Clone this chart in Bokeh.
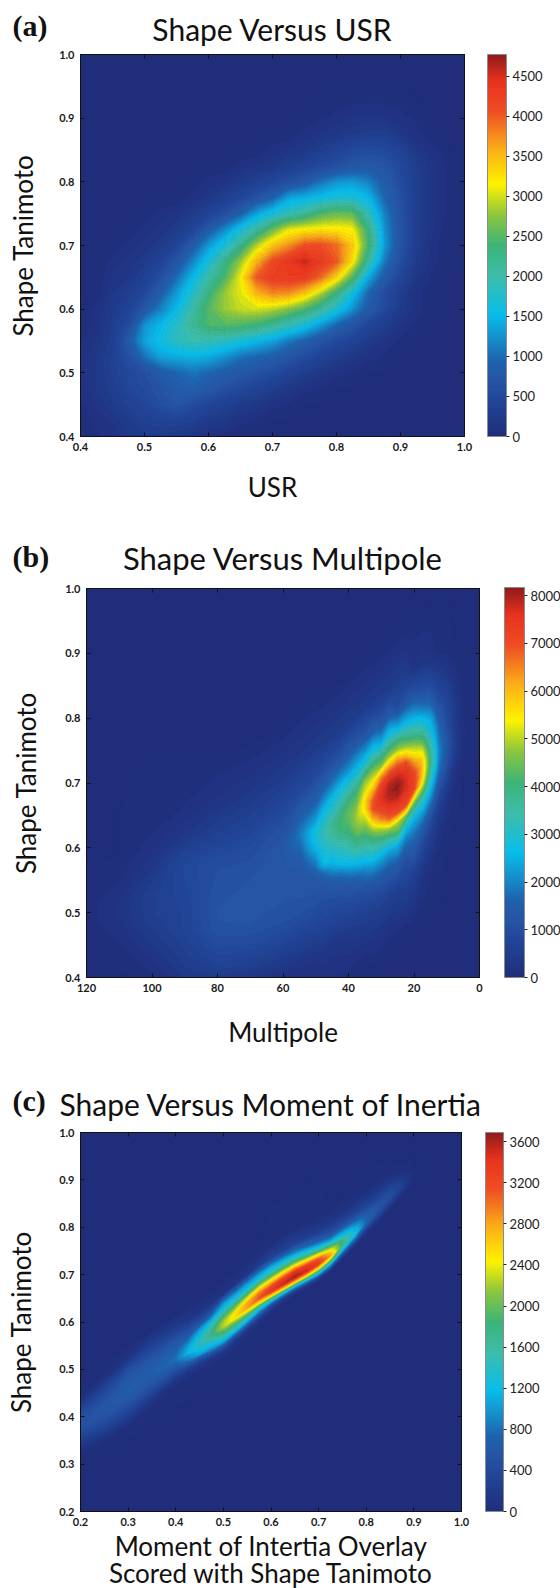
import numpy as np
from bokeh.embed import file_html
from bokeh.resources import INLINE
from bokeh.models import (ColorBar, CustomJSTickFormatter, FixedTicker, LinearAxis, LinearColorMapper,
                          NumeralTickFormatter, Range1d, Title)
from bokeh.plotting import figure

# ---- read-off colour scale (fraction of the bar, colour) ----
CMAP_STOPS = [(0.00, "#1f2d7a"), (0.10, "#22479a"), (0.15, "#2656a5"), (0.20, "#1e63ae"), (0.28, "#12a0d8"),
              (0.32, "#08bdeb"), (0.42, "#3dbdaa"), (0.50, "#3cb478"), (0.58, "#8cc63f"),
              (0.66, "#fff200"), (0.75, "#fbb018"), (0.85, "#ef4e23"), (0.93, "#e8321e"),
              (1.00, "#8e1b1b")]

# ---- panel (a) Shape Versus USR: (y, first column, values) ----
A_X = [0.40, 0.425, 0.45, 0.475, 0.50, 0.525, 0.55, 0.575, 0.60, 0.625, 0.65, 0.675, 0.70,
       0.725, 0.75, 0.775, 0.80, 0.825, 0.85, 0.875, 0.90, 0.925, 0.95, 0.975, 1.0]
A_Y = A_X
A_MAX = 4770
A_ROWS = [
    (0.925, 16, [30, 50, 60, 60, 40]),
    (0.900, 15, [50, 100, 150, 150, 150, 100, 50]),
    (0.875, 14, [100, 150, 200, 250, 300, 300, 200, 100]),
    (0.850, 12, [100, 150, 200, 300, 400, 500, 550, 500, 400, 200, 100]),
    (0.825, 10, [100, 150, 200, 300, 400, 500, 600, 700, 750, 700, 500, 300, 150, 50]),
    (0.800, 8, [100, 150, 250, 350, 450, 600, 750, 1050, 1250, 1300, 1150, 850, 550, 300, 150, 50]),
    (0.775, 7, [100, 200, 300, 450, 650, 900, 1350, 1450, 1550, 1650, 1700, 1500, 950, 600, 300, 150, 50]),
    (0.750, 5, [100, 150, 250, 400, 600, 900, 1350, 1650, 1900, 2100, 2450, 2600, 2550, 1900, 1150, 650, 300, 150, 50]),
    (0.725, 4, [100, 150, 250, 450, 800, 1200, 1650, 2050, 2600, 3050, 3150, 3200, 3200, 3150, 2300, 1250, 650, 300, 150]),
    (0.700, 3, [100, 150, 250, 450, 800, 1300, 1700, 2200, 2900, 3400, 3700, 4050, 4100, 3900, 3400, 2400, 1300, 650, 300, 100]),
    (0.675, 2, [100, 150, 250, 400, 700, 1150, 1650, 2200, 2800, 3500, 4100, 4350, 4550, 4300, 4000, 3200, 2050, 1100, 600, 250, 100]),
    (0.650, 2, [150, 200, 350, 600, 1000, 1500, 2000, 2450, 3100, 4000, 4250, 4300, 4250, 3900, 3300, 2500, 1400, 800, 450, 200, 50]),
    (0.625, 2, [200, 300, 500, 850, 1300, 1750, 2300, 2800, 3050, 3500, 3750, 3700, 3400, 2900, 2300, 1600, 950, 550, 300, 100]),
    (0.600, 1, [100, 250, 400, 750, 1150, 1500, 2000, 2500, 2800, 2950, 3000, 2900, 2700, 2450, 2100, 1700, 1250, 800, 500, 250, 100]),
    (0.575, 1, [100, 300, 550, 1250, 1500, 1800, 2150, 2450, 2500, 2450, 2350, 2150, 1900, 1650, 1300, 950, 700, 450, 300, 150, 50]),
    (0.550, 0, [50, 150, 300, 800, 1350, 1600, 1850, 1950, 1900, 1800, 1650, 1500, 1350, 1100, 900, 700, 500, 400, 250, 150, 50]),
    (0.525, 0, [100, 200, 350, 600, 1050, 1350, 1400, 1450, 1400, 1250, 1050, 950, 850, 700, 550, 400, 300, 200, 100, 50]),
    (0.500, 0, [100, 200, 350, 500, 600, 800, 950, 1050, 950, 850, 750, 650, 550, 400, 300, 200, 100, 50]),
    (0.475, 0, [100, 200, 300, 450, 550, 650, 800, 900, 750, 600, 500, 400, 300, 200, 100, 50]),
    (0.450, 0, [50, 150, 250, 350, 450, 600, 700, 550, 450, 350, 250, 200, 100, 50]),
    (0.425, 1, [100, 150, 250, 350, 400, 400, 350, 250, 200, 100, 50]),
    (0.400, 1, [50, 100, 200, 250, 250, 200, 150, 100, 50]),
]
A_X_TICKS = [0.4, 0.5, 0.6, 0.7, 0.8, 0.9, 1.0]
A_Y_TICKS = [0.4, 0.5, 0.6, 0.7, 0.8, 0.9, 1.0]
A_BAR_TICKS = [0, 500, 1000, 1500, 2000, 2500, 3000, 3500, 4000, 4500]

# ---- panel (b) Shape Versus Multipole: values read across the ridge, at stations along it ----
B_MAX = 8170
B_STATION_X = [120, 110, 100, 90, 80, 70, 60, 55, 50, 47.5, 45, 42.5, 40, 37.5, 35, 32.5, 30, 27.5, 25, 22.5,
               20, 17.5, 15, 12.5, 10, 7.5, 5, 0]
B_RIDGE_Y = [0.5, 0.5, 0.5, 0.5, 0.5, 0.52, 0.55, 0.58, 0.59, 0.60, 0.61, 0.615, 0.63, 0.645, 0.66, 0.66, 0.67,
             0.685, 0.695, 0.705, 0.715, 0.725, 0.73, 0.74, 0.75, 0.76, 0.77, 0.78]
B_OFFSET_Y = [-0.16, -0.12, -0.09, -0.07, -0.055, -0.04, -0.025, -0.0125, 0, 0.0125, 0.025, 0.04, 0.055, 0.07, 0.09, 0.12, 0.16]
B_VALUES = [
    [0, 0, 0, 0, 0, 0, 30, 50, 60, 50, 30, 0, 0, 0, 0, 0, 0],
    [0, 0, 0, 30, 80, 130, 190, 220, 250, 230, 200, 140, 80, 40, 0, 0, 0],
    [0, 0, 130, 220, 320, 400, 450, 500, 550, 550, 550, 490, 420, 330, 240, 120, 20],
    [0, 200, 420, 520, 580, 640, 700, 700, 700, 720, 750, 780, 810, 840, 650, 350, 130],
    [100, 200, 550, 750, 900, 1000, 1100, 1130, 1150, 1130, 1100, 1070, 1040, 1010, 880, 600, 310],
    [0, 350, 660, 900, 1020, 1130, 1180, 1190, 1160, 1150, 1150, 1110, 1050, 990, 870, 630, 370],
    [80, 450, 800, 1000, 1070, 1120, 1150, 1150, 1150, 1150, 1150, 1200, 1220, 1130, 1010, 750, 420],
    [250, 650, 970, 1090, 1150, 1150, 1180, 1250, 1350, 1500, 1700, 1850, 1700, 1400, 1080, 700, 360],
    [240, 650, 950, 1070, 1160, 1250, 1600, 1950, 2300, 2650, 2800, 2700, 2200, 1800, 1400, 880, 450],
    [330, 700, 950, 1070, 1200, 1650, 2600, 2850, 3000, 3150, 3300, 3000, 2700, 2200, 1600, 1000, 450],
    [300, 720, 1020, 1250, 1650, 2300, 2750, 3000, 3300, 3600, 3650, 3300, 2900, 2500, 1800, 1100, 450],
    [300, 730, 1000, 1300, 1800, 2600, 3000, 3300, 3700, 4000, 4100, 3800, 3300, 2950, 2200, 1250, 500],
    [400, 850, 1250, 1900, 2600, 3050, 3450, 3800, 4150, 4300, 4350, 4100, 3500, 2900, 2100, 1300, 500],
    [500, 950, 1600, 2550, 3200, 3800, 4300, 4650, 4850, 4800, 4500, 4050, 3500, 2800, 2200, 1200, 420],
    [600, 1150, 2200, 3000, 3550, 4100, 4700, 5100, 5500, 5550, 5200, 4800, 3900, 2900, 2100, 1100, 400],
    [530, 1100, 2150, 3000, 3600, 4400, 5300, 6200, 6950, 6800, 6200, 5400, 4800, 3900, 2800, 1500, 500],
    [570, 1200, 2200, 3100, 4000, 5000, 6500, 7100, 7500, 7500, 7200, 6300, 4700, 3900, 2500, 1300, 500],
    [560, 1350, 2300, 3600, 4900, 6700, 7400, 7800, 8000, 7900, 7400, 6200, 4900, 3900, 2800, 1400, 450],
    [560, 1450, 2500, 4300, 5000, 7000, 7600, 8000, 8150, 7900, 7300, 6300, 4900, 4000, 2500, 1000, 500],
    [650, 1100, 2000, 3000, 4600, 7000, 7500, 7700, 7700, 7500, 7100, 5600, 4500, 3600, 2500, 1200, 500],
    [550, 1300, 1900, 2500, 3500, 5100, 7050, 7200, 7100, 6500, 5700, 4900, 4000, 3200, 2300, 1200, 250],
    [300, 900, 1600, 2300, 3000, 4200, 5300, 5800, 5900, 5700, 5200, 4300, 3500, 2800, 1900, 1000, 300],
    [150, 500, 900, 1500, 2000, 2500, 3000, 3500, 3850, 3800, 3500, 3100, 2700, 2400, 1700, 950, 250],
    [50, 200, 450, 700, 1000, 1350, 1700, 1900, 2000, 2000, 1900, 1750, 1550, 1300, 950, 550, 100],
    [0, 80, 200, 350, 500, 750, 1000, 1150, 1250, 1250, 1150, 1000, 900, 800, 650, 350, 50],
    [0, 0, 50, 100, 150, 250, 350, 450, 500, 500, 450, 430, 400, 350, 280, 120, 0],
    [0, 0, 0, 0, 0, 50, 80, 100, 130, 130, 120, 100, 90, 80, 60, 20, 0],
    [0, 0, 0, 0, 0, 0, 0, 0, 0, 0, 0, 0, 0, 0, 0, 0, 0],
]
B_X_TICKS = [120, 100, 80, 60, 40, 20, 0]
B_Y_TICKS = A_Y_TICKS
B_BAR_TICKS = [0, 1000, 2000, 3000, 4000, 5000, 6000, 7000, 8000]

# ---- panel (c) Shape Versus Moment of Inertia: values read across the ridge, at stations along it ----
C_MAX = 3690
C_STATION_X = [0.2, 0.25, 0.3, 0.35, 0.4, 0.425, 0.45, 0.475, 0.5, 0.525, 0.55, 0.575, 0.6, 0.625, 0.65,
               0.675, 0.7, 0.725, 0.75, 0.775, 0.8, 0.825, 0.85, 0.875, 0.9, 0.925]
C_RIDGE_Y = [0.385, 0.415, 0.452, 0.487, 0.52, 0.535, 0.553, 0.572, 0.59, 0.61, 0.63, 0.65, 0.665, 0.68,
             0.695, 0.708, 0.723, 0.74, 0.762, 0.785, 0.81, 0.835, 0.862, 0.885, 0.905, 0.925]
C_OFFSET_Y = [-0.10, -0.07, -0.05, -0.04, -0.03, -0.02, -0.01, 0.0, 0.01, 0.02, 0.03, 0.04, 0.05, 0.07, 0.10]
C_VALUES = [
    [0, 0, 80, 180, 300, 400, 480, 500, 480, 420, 340, 200, 80, 0, 0],
    [0, 30, 180, 300, 400, 470, 520, 550, 530, 490, 430, 350, 260, 60, 0],
    [0, 50, 250, 350, 450, 530, 600, 620, 620, 600, 550, 500, 430, 150, 0],
    [0, 30, 150, 300, 420, 520, 600, 650, 650, 620, 570, 500, 430, 220, 0],
    [0, 10, 60, 180, 350, 500, 680, 800, 760, 700, 620, 530, 430, 180, 0],
    [0, 10, 60, 150, 350, 700, 950, 1150, 1050, 900, 720, 550, 420, 150, 0],
    [0, 10, 60, 200, 500, 1050, 1250, 1400, 1350, 1200, 1000, 650, 400, 100, 0],
    [0, 10, 120, 400, 900, 1200, 1450, 1750, 1650, 1500, 1150, 800, 450, 80, 0],
    [0, 20, 200, 600, 1100, 1500, 1900, 2250, 2200, 1900, 1500, 1200, 950, 100, 0],
    [0, 20, 150, 500, 1100, 1600, 2050, 2500, 2450, 2100, 1650, 1250, 950, 110, 0],
    [0, 10, 100, 400, 1000, 1500, 2200, 2800, 2750, 2350, 1750, 1250, 1000, 130, 0],
    [0, 0, 60, 300, 800, 1400, 2400, 3100, 2950, 2500, 1900, 1300, 1000, 200, 0],
    [0, 0, 0, 100, 400, 1200, 2400, 3350, 3150, 2600, 2000, 1450, 1100, 300, 30],
    [0, 0, 0, 30, 250, 1100, 2500, 3500, 3300, 2700, 2050, 1500, 1050, 300, 50],
    [0, 0, 0, 0, 200, 1100, 2600, 3600, 3400, 2700, 2000, 1400, 950, 300, 50],
    [0, 0, 0, 0, 200, 1100, 2500, 3500, 3300, 2600, 1800, 1250, 800, 250, 30],
    [0, 0, 0, 0, 200, 1200, 2400, 3300, 3100, 2300, 1500, 950, 600, 200, 20],
    [0, 0, 0, 0, 100, 900, 2000, 2800, 2500, 1800, 1100, 700, 450, 150, 0],
    [0, 0, 0, 0, 0, 400, 1150, 1750, 1650, 1250, 900, 550, 350, 100, 0],
    [0, 0, 0, 0, 0, 200, 800, 1300, 1200, 950, 650, 400, 250, 70, 0],
    [0, 0, 0, 0, 0, 100, 450, 750, 700, 600, 420, 280, 170, 30, 0],
    [0, 0, 0, 0, 0, 80, 350, 520, 500, 420, 300, 180, 100, 10, 0],
    [0, 0, 0, 0, 0, 60, 300, 450, 430, 350, 220, 100, 40, 0, 0],
    [0, 0, 0, 0, 0, 30, 150, 250, 230, 160, 70, 20, 0, 0, 0],
    [0, 0, 0, 0, 0, 0, 0, 20, 10, 0, 0, 0, 0, 0, 0],
    [0, 0, 0, 0, 0, 0, 0, 0, 0, 0, 0, 0, 0, 0, 0],
]
C_X_TICKS = [0.2, 0.3, 0.4, 0.5, 0.6, 0.7, 0.8, 0.9, 1.0]
C_Y_TICKS = C_X_TICKS
C_BAR_TICKS = [0, 400, 800, 1200, 1600, 2000, 2400, 2800, 3200, 3600]

NAVY = "#1f2d7a"
FONT = "Lato"
SERIF = "Liberation Serif"


def make_palette(n):
    fr = np.array([s[0] for s in CMAP_STOPS])
    rgb = np.array([[int(s[1][i:i + 2], 16) for i in (1, 3, 5)] for s in CMAP_STOPS], dtype=float)
    t = (np.arange(n) + 0.5) / n
    cols = np.stack([np.interp(t, fr, rgb[:, k]) for k in range(3)], axis=1).round().astype(int)
    return ["#%02x%02x%02x" % tuple(c) for c in cols]


def grid(xs, ys, rows):
    z = np.zeros((len(ys), len(xs)))
    for y, start, vals in rows:
        j = int(np.argmin(np.abs(np.array(ys) - y)))
        z[j, start:start + len(vals)] = vals
    return z


def ridge_mesh(stations, ridge, offsets, values):
    # one row per station in the table; contour wants x rising, and the mesh ends on zeros
    order = np.argsort(stations)
    sx = np.array(stations, dtype=float)[order]
    ry = np.array(ridge, dtype=float)[order]
    off = np.array([offsets[0] - 0.08] + list(offsets) + [offsets[-1] + 0.08])
    z = np.array(values, dtype=float)[order].T
    z = np.vstack([np.zeros(len(sx)), z, np.zeros(len(sx))])
    return np.tile(sx, (len(off), 1)), ry[None, :] + off[:, None], z


def panel(X, Y, z, vmax, xr, yr, xticks, yticks, barticks, xfmt,
          page_top, fig_h, frame_l, frame_t, frame_r, frame_b, bar_l, bar_w,
          tag, tag_standoff, title, title_size, title_off, title_standoff, xlabel, xlabel_standoff, ylabel_standoff,
          second_line=None):
    nlev = 72
    levels = np.linspace(0, vmax, nlev + 1)
    pal = make_palette(nlev)
    fig_w = 560
    p = figure(width=fig_w, height=fig_h,
               x_range=Range1d(*xr), y_range=Range1d(*yr), toolbar_location=None,
               output_backend="svg", min_border_left=frame_l, min_border_top=frame_t - page_top,
               min_border_right=fig_w - frame_r, min_border_bottom=page_top + fig_h - frame_b,
               background_fill_color=NAVY, outline_line_color="#111111", outline_line_width=1)
    p.grid.visible = False
    p.contour(X, Y, z, levels=levels, fill_color=pal, line_color=pal + [pal[-1]], line_width=1)

    def style(ax, ticks, labels=True):
        ax.ticker = FixedTicker(ticks=list(ticks))
        ax.major_tick_in = 4
        ax.major_tick_out = 0
        ax.minor_tick_line_color = None
        ax.axis_line_color = "#111111"
        ax.major_tick_line_color = "#111111"
        ax.major_label_text_font = FONT
        ax.major_label_text_font_style = "bold"
        ax.major_label_text_font_size = "11px" if labels else "1px"
        ax.major_label_text_color = "#1a1a1a"
        ax.major_label_standoff = 6 if labels else 0
        ax.axis_label_text_font = FONT
        ax.axis_label_text_font_style = "normal"
        ax.axis_label_text_font_size = "26px"
        ax.axis_label_text_color = "#111111"

    style(p.xaxis[0], xticks)
    style(p.yaxis[0], yticks)
    p.xaxis[0].formatter = NumeralTickFormatter(format=xfmt)
    p.yaxis[0].formatter = NumeralTickFormatter(format="0.0")
    p.xaxis[0].axis_label = xlabel
    p.xaxis[0].axis_label_standoff = xlabel_standoff
    p.yaxis[0].axis_label = "Shape Tanimoto"
    p.yaxis[0].axis_label_standoff = ylabel_standoff
    top_ax = LinearAxis(formatter=CustomJSTickFormatter(code="return ''"))
    right_ax = LinearAxis(formatter=CustomJSTickFormatter(code="return ''"))
    style(top_ax, xticks, False)
    style(right_ax, yticks, False)
    p.add_layout(top_ax, "above")
    p.add_layout(right_ax, "right")

    p.add_layout(Title(text=title, align="center", offset=title_off, standoff=title_standoff,
                       text_font=FONT, text_font_style="normal", text_font_size=title_size,
                       text_color="#111111"), "above")
    p.add_layout(Title(text=tag, align="left", offset=12 - frame_l, standoff=tag_standoff,
                       text_font=SERIF, text_font_style="bold", text_font_size="30px",
                       text_color="#111111"), "above")
    if second_line:
        p.add_layout(Title(text=second_line, align="center", standoff=-20,
                           text_font=FONT, text_font_style="normal", text_font_size="26px",
                           text_color="#111111"), "below")

    mapper = LinearColorMapper(palette=make_palette(256), low=0, high=vmax)
    cb = ColorBar(color_mapper=mapper, ticker=FixedTicker(ticks=list(barticks)),
                  location=(bar_l - frame_l, 0), width=bar_w, height=frame_b - frame_t,
                  padding=0, margin=0, major_tick_in=0, major_tick_out=3,
                  major_tick_line_color="#222222", minor_tick_line_color=None,
                  bar_line_color="#8a8a8a", bar_line_width=1, border_line_color=None,
                  background_fill_color=None, label_standoff=3,
                  major_label_text_font=FONT, major_label_text_font_size="13px",
                  major_label_text_color="#222222")
    p.add_layout(cb)
    return p


pa = panel(np.array(A_X), np.array(A_Y), grid(A_X, A_Y, A_ROWS), A_MAX, (0.4, 1.0), (0.4, 1.0),
           A_X_TICKS, A_Y_TICKS, A_BAR_TICKS, "0.0",
           0, 525, 80, 54, 464, 436, 487, 19,
           "(a)", -82, "Shape Versus USR", "30px", 1, 16, "USR", 17, 17)
B_XX, B_YY, B_Z = ridge_mesh(B_STATION_X, B_RIDGE_Y, B_OFFSET_Y, B_VALUES)
pb = panel(B_XX, B_YY, B_Z, B_MAX, (120, 0), (0.4, 1.0),
           B_X_TICKS, B_Y_TICKS, B_BAR_TICKS, "0",
           525, 547, 86, 587, 479, 977, 504, 20,
           "(b)", -94, "Shape Versus Multipole", "31px", 4, 23, "Multipole", 21, 20)
C_XX, C_YY, C_Z = ridge_mesh(C_STATION_X, C_RIDGE_Y, C_OFFSET_Y, C_VALUES)
pc = panel(C_XX, C_YY, C_Z, C_MAX, (0.2, 1.0), (0.2, 1.0),
           C_X_TICKS, C_Y_TICKS, C_BAR_TICKS, "0.0",
           1072, 516, 80, 1132, 461, 1511, 485, 18,
           "(c)", -88, "Shape Versus Moment of Inertia", "30px", 0, 22, "Moment of Intertia Overlay", 1, 19,
           second_line="Scored with Shape Tanimoto")

open("out.html", "w").write(file_html([pa, pb, pc], INLINE))
